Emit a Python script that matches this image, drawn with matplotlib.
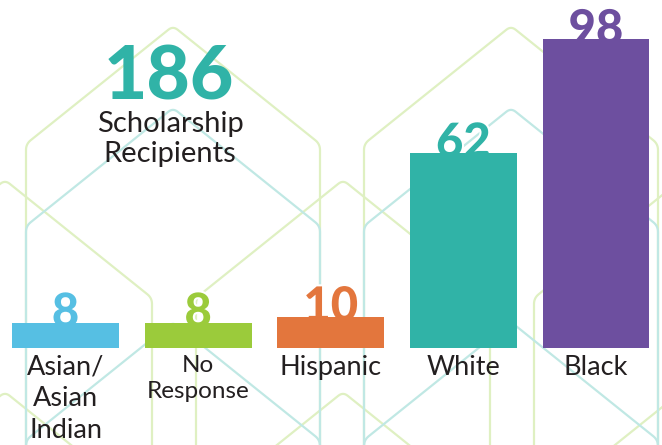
import numpy as np
import matplotlib
matplotlib.use("Agg")
import matplotlib.pyplot as plt
import matplotlib.patheffects as pe

# chart data
categories = ["Asian/\nAsian\nIndian", "No\nResponse", "Hispanic", "White", "Black"]
values = [8, 8, 10, 62, 98]
colors = ["#56BFE3", "#9BCB3B", "#E3763D", "#30B3A7", "#6D4F9F"]
label_sizes = [19.5, 17.5, 19.5, 19.5, 19.5]
total_label = "Scholarship\nRecipients"

GREEN = "#DFF0C2"
TEAL = "#C0E8E4"
TEXT = "#231F20"


def rounded(pts, r=6, n=8):
    # replace interior corners with small quadratic curves
    pts = np.asarray(pts, float)
    out = [pts[0]]
    for k in range(1, len(pts) - 1):
        p0, p1, p2 = pts[k - 1], pts[k], pts[k + 1]
        a = p1 + (p0 - p1) / np.linalg.norm(p0 - p1) * r
        b = p1 + (p2 - p1) / np.linalg.norm(p2 - p1) * r
        for t in np.linspace(0, 1, n):
            out.append((1 - t) ** 2 * a + 2 * (1 - t) * t * p1 + t ** 2 * b)
    out.append(pts[-1])
    return np.array(out)


def chevron(ax, cx, py, color, half=147, drop=118, bottom=460):
    pts = [(cx - half, bottom), (cx - half, py + drop), (cx, py),
           (cx + half, py + drop), (cx + half, bottom)]
    p = rounded(pts)
    ax.plot(p[:, 0], p[:, 1], color=color, lw=1.6, solid_capstyle="round")


fig = plt.figure(figsize=(6.62, 4.45), dpi=100)
fig.patch.set_facecolor("white")

# decorative background
bg = fig.add_axes([0, 0, 1, 1], zorder=0)
bg.set_xlim(0, 662)
bg.set_ylim(445, 0)
bg.axis("off")
period = 338
for cx in [173 - period, 173, 173 + period, 173 + 2 * period]:
    chevron(bg, cx, 26, GREEN)
for cx in [5, 5 + period, 5 + 2 * period]:
    for py in [180, 392]:
        chevron(bg, cx, py, GREEN)
for cx in [173 - period, 173, 173 + period, 173 + 2 * period]:
    for py in [108, 322]:
        chevron(bg, cx, py, TEAL)

# total headline
bg.text(169, 100, str(sum(values)), ha="center", va="baseline", fontsize=54,
        family="Lato", weight="black", color="#30B3A7")
bg.text(170, 111, total_label, ha="center", va="top", fontsize=21,
        family="Lato", weight="normal", color=TEXT, linespacing=1.2)

# bars
ax = fig.add_axes([0, 0, 1, 1], zorder=1)
ax.patch.set_alpha(0)
x = np.arange(len(values))
ax.bar(x, values, width=0.806, color=colors, zorder=3)
ax.set_xlim(-0.494, 4.498)
ax.set_ylim(-30.8, 110.5)
ax.axis("off")

for i, (v, c) in enumerate(zip(values, colors)):
    ax.annotate(str(v), xy=(i, v), xytext=(0, -3), textcoords="offset points",
                ha="center", va="baseline", fontsize=34, family="Lato",
                weight="black", color=c, zorder=2,
                path_effects=[pe.withStroke(linewidth=3, foreground="white")])
    ax.annotate(categories[i], xy=(i, 0), xytext=(0, -5), textcoords="offset points",
                ha="center", va="top", fontsize=label_sizes[i], family="Lato",
                weight="normal", color=TEXT, linespacing=1.32, zorder=4)

fig.savefig("out.png", dpi=100, facecolor="white")
